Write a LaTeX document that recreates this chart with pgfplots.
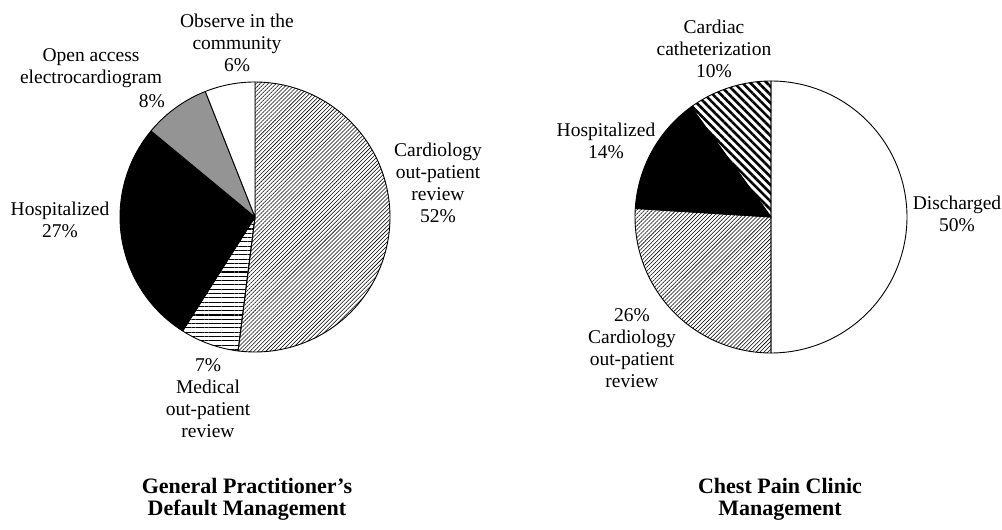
\documentclass[border=0pt]{standalone}
\usepackage{fontspec}
\setmainfont{Liberation Serif}
\usepackage{pgfplots}
\pgfplotsset{compat=1.18}
\usetikzlibrary{patterns.meta}
% one wedge: from cumulative percent #1 to #2, clockwise from 12 o'clock
\newcommand{\slice}[3]{%
  \addplot[draw=black, line width=0.9pt, line join=round, #3,
    domain={90-3.6*(#2)}:{90-3.6*(#1)}, samples=120, variable=\t]
    ({cos(\t)},{sin(\t)}) -- (axis cs:0,0) -- cycle;}
\tikzset{lbl/.style={font=\fontsize{19.5}{22}\selectfont, align=center, inner sep=0pt},
  ttl/.style={font=\fontsize{22}{22}\selectfont\bfseries, align=center, inner sep=0pt}}
\pgfplotsset{pie/.style={anchor=center, width=270pt, height=270pt, scale only axis,
  hide axis, xmin=-1, xmax=1, ymin=-1, ymax=1, clip=false}}
\begin{document}
\begin{tikzpicture}[x=1pt,y=1pt]
\useasboundingbox (0,0) rectangle (1002,530);
% General practitioner: 52, 7, 27, 8, 6
\begin{axis}[pie, at={(255pt,313pt)}]
\slice{0}{52}{pattern={Lines[angle=45,distance=2.8pt,line width=0.55pt]}}
\slice{52}{59}{pattern={Lines[angle=0,distance=4.3pt,line width=1.1pt]}}
\slice{59}{86}{fill=black}
\slice{86}{94}{fill=black!42}
\slice{94}{100}{fill=white}
\end{axis}
% Chest pain clinic: 50, 26, 14, 10
\begin{axis}[pie, at={(771pt,313pt)}, width=272pt, height=272pt]
\slice{0}{50}{fill=white}
\slice{50}{76}{pattern={Lines[angle=45,distance=2.8pt,line width=0.55pt]}}
\slice{76}{90}{fill=black}
\slice{90}{100}{pattern={Lines[angle=-45,distance=5.8pt,line width=2.6pt]}}
\end{axis}
% labels left
\node[lbl] at (237,487) {Observe in the\\community\\6\%};
\node[lbl] at (91,462) {Open access\\electrocardiogram};
\node[lbl, anchor=east] at (165,429) {8\%};
\node[lbl] at (60,310) {Hospitalized\\27\%};
\node[lbl] at (438,347) {Cardiology\\out-patient\\review\\52\%};
\node[lbl] at (208,131.5) {7\%\\Medical\\out-patient\\review};
\node[ttl] at (247,31) {General Practitioner's\\Default Management};
% labels right
\node[lbl] at (714,481) {Cardiac\\catheterization\\10\%};
\node[lbl] at (606,389.5) {Hospitalized\\14\%};
\node[lbl] at (957,316.5) {Discharged\\50\%};
\node[lbl] at (632,182) {26\%\\Cardiology\\out-patient\\review};
\node[ttl] at (780,31) {Chest Pain Clinic\\Management};
\end{tikzpicture}
\end{document}
